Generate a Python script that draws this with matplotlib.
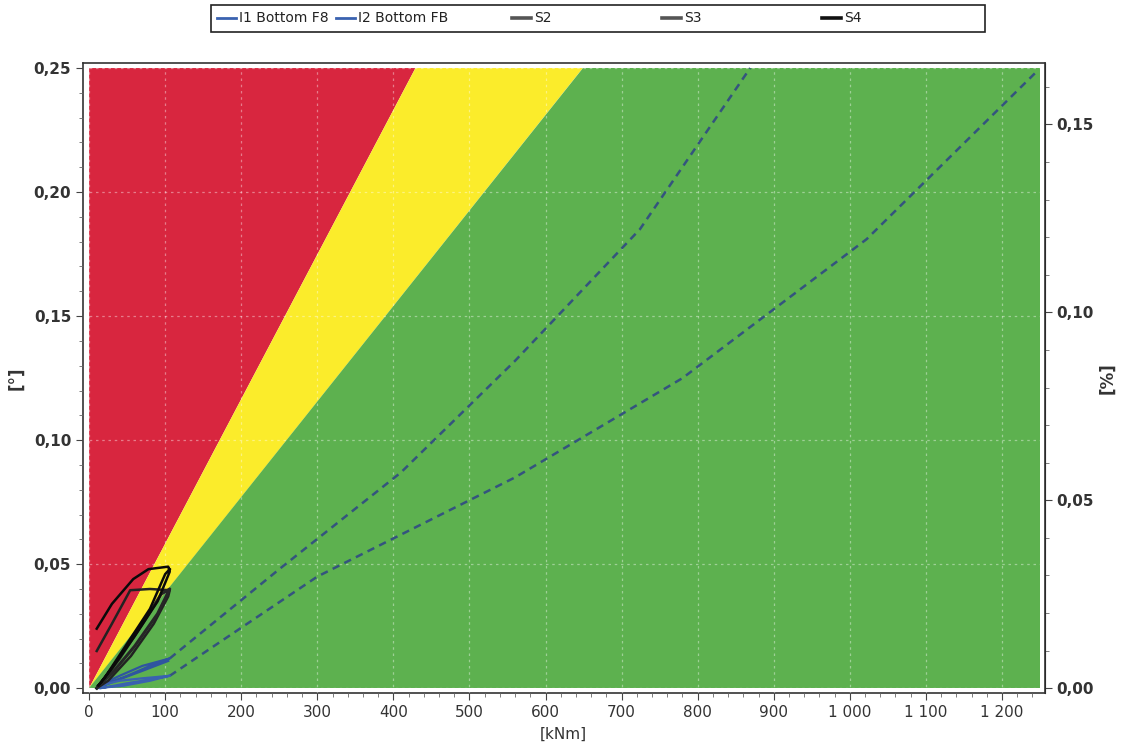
import matplotlib
matplotlib.use("Agg")
import matplotlib.pyplot as plt
from matplotlib.ticker import MultipleLocator, FuncFormatter
from matplotlib.lines import Line2D
from matplotlib.patches import Rectangle

# ---- data ----
x_max_fill = 1250
y_max_fill = 0.25
red_yellow_x_at_top = 429      # kNm where red/yellow boundary hits 0.25
yellow_green_x_at_top = 649    # kNm where yellow/green boundary hits 0.25

# dashed extrapolation lines
dash_upper_x = [106, 250, 410, 560, 724, 869]
dash_upper_y = [0.012, 0.048, 0.087, 0.132, 0.185, 0.250]
dash_lower_x = [106, 300, 560, 780, 1022, 1247]
dash_lower_y = [0.005, 0.045, 0.085, 0.125, 0.181, 0.249]

# measured series
i1_x = [12, 40, 70, 106, 80, 50, 25, 10, 35, 70, 104]
i1_y = [0.001, 0.005, 0.009, 0.012, 0.009, 0.005, 0.002, 0.000, 0.003, 0.007, 0.011]
i2_x = [15, 50, 80, 106, 70, 40, 20, 10, 45, 80, 105]
i2_y = [0.000, 0.002, 0.0035, 0.005, 0.004, 0.003, 0.0015, 0.000, 0.001, 0.003, 0.005]
s2_x = [10, 30, 54, 80, 106, 104, 85, 55, 25, 10]
s2_y = [0.015, 0.026, 0.0395, 0.040, 0.0395, 0.037, 0.026, 0.013, 0.003, 0.000]
s3_x = [10, 40, 70, 95, 106, 90, 60, 30, 12]
s3_y = [0.000, 0.012, 0.026, 0.038, 0.040, 0.030, 0.017, 0.006, 0.001]
s4_x = [10, 30, 58, 78, 104, 106, 90, 60, 30, 12, 20, 50, 80, 100, 106]
s4_y = [0.024, 0.034, 0.044, 0.048, 0.049, 0.047, 0.035, 0.021, 0.008, 0.001, 0.004, 0.018, 0.032, 0.046, 0.048]

x_ticks = list(range(0, 1300, 100))
y_ticks = [0.00, 0.05, 0.10, 0.15, 0.20, 0.25]
pct_factor = 0.66
pct_ticks = [0.00, 0.05, 0.10, 0.15]

legend_labels = ["I1 Bottom F8", "I2 Bottom FB", "S2", "S3", "S4"]
legend_colors = ["#3a62b0", "#3a62b0", "#555555", "#555555", "#111111"]

# ---- plot ----
W, H = 1122, 751
fig = plt.figure(figsize=(W / 100, H / 100), dpi=100)
ax = fig.add_axes([0.074, 0.077, 0.857, 0.839])

red = "#d8263f"
yellow = "#fbec2b"
green = "#5db14f"

ax.fill([0, red_yellow_x_at_top, 0], [0, y_max_fill, y_max_fill], color=red, lw=0, zorder=1)
ax.fill([0, yellow_green_x_at_top, red_yellow_x_at_top], [0, y_max_fill, y_max_fill], color=yellow, lw=0, zorder=1)
ax.fill([0, x_max_fill, x_max_fill, yellow_green_x_at_top], [0, 0, y_max_fill, y_max_fill], color=green, lw=0, zorder=1)

ax.grid(True, color="white", alpha=0.4, linestyle=(0, (2, 3)), lw=0.9, zorder=2)
ax.set_axisbelow(False)

dash_col = "#34547e"
ax.plot(dash_upper_x, dash_upper_y, color=dash_col, lw=1.8, ls=(0, (3, 2.2)), zorder=3)
ax.plot(dash_lower_x, dash_lower_y, color=dash_col, lw=1.8, ls=(0, (3, 2.2)), zorder=3)

ax.plot(i1_x, i1_y, color="#2f55a0", lw=1.6, zorder=4)
ax.plot(i2_x, i2_y, color="#3a62b0", lw=1.6, zorder=4)
ax.plot(s2_x, s2_y, color="#222222", lw=1.8, zorder=5)
ax.plot(s3_x, s3_y, color="#262626", lw=2.2, zorder=5)
ax.plot(s4_x, s4_y, color="#0a0a0a", lw=1.8, zorder=5)

ax.set_xlim(-8, 1256)
ax.set_ylim(-0.002, 0.252)
ax.set_xticks(x_ticks)
ax.set_yticks(y_ticks)
ax.xaxis.set_minor_locator(MultipleLocator(20))
ax.yaxis.set_minor_locator(MultipleLocator(0.01))
ax.xaxis.set_major_formatter(FuncFormatter(lambda v, p: f"{int(v):,}".replace(",", " ")))
ax.yaxis.set_major_formatter(FuncFormatter(lambda v, p: f"{v:.2f}".replace(".", ",")))
ax.tick_params(axis="both", which="major", length=5, color="#444444", labelsize=11, labelcolor="#333333")
ax.tick_params(axis="both", which="minor", length=3, color="#666666")
for lab in ax.get_yticklabels():
    lab.set_fontweight("bold")
for s in ax.spines.values():
    s.set_color("#333333")
    s.set_linewidth(1.2)

ax.set_xlabel("[kNm]", fontsize=11, color="#333333", labelpad=5)
ax.set_ylabel("[°]", fontsize=12, fontweight="bold", color="#333333", labelpad=6)

sec = ax.secondary_yaxis("right", functions=(lambda y: y * pct_factor, lambda y: y / pct_factor))
sec.set_yticks(pct_ticks)
sec.yaxis.set_minor_locator(MultipleLocator(0.01))
sec.yaxis.set_major_formatter(FuncFormatter(lambda v, p: f"{v:.2f}".replace(".", ",")))
sec.tick_params(axis="y", which="major", length=5, labelsize=11, labelcolor="#333333", color="#444444")
sec.tick_params(axis="y", which="minor", length=3, color="#666666")
for lab in sec.get_yticklabels():
    lab.set_fontweight("bold")
sec.set_ylabel("[%]", fontsize=12, fontweight="bold", color="#333333", labelpad=3)

# legend: framed box with manually spaced entries
fig.patches.append(Rectangle((211 / W, 1 - 32 / H), (985 - 211) / W, 27 / H,
                             transform=fig.transFigure, fill=False,
                             edgecolor="#222222", lw=1.2))
entry_x = [217, 336, 512, 662, 822]
for px, lab, col in zip(entry_x, legend_labels, legend_colors):
    fig.add_artist(Line2D([px / W, (px + 19) / W], [1 - 18 / H, 1 - 18 / H],
                          transform=fig.transFigure, color=col,
                          lw=2.6 if col != "#3a62b0" else 2.0))
    fig.text((px + 22) / W, 1 - 18 / H, lab, fontsize=10, color="#222222",
             va="center", ha="left")

fig.savefig("out.png", dpi=100)
